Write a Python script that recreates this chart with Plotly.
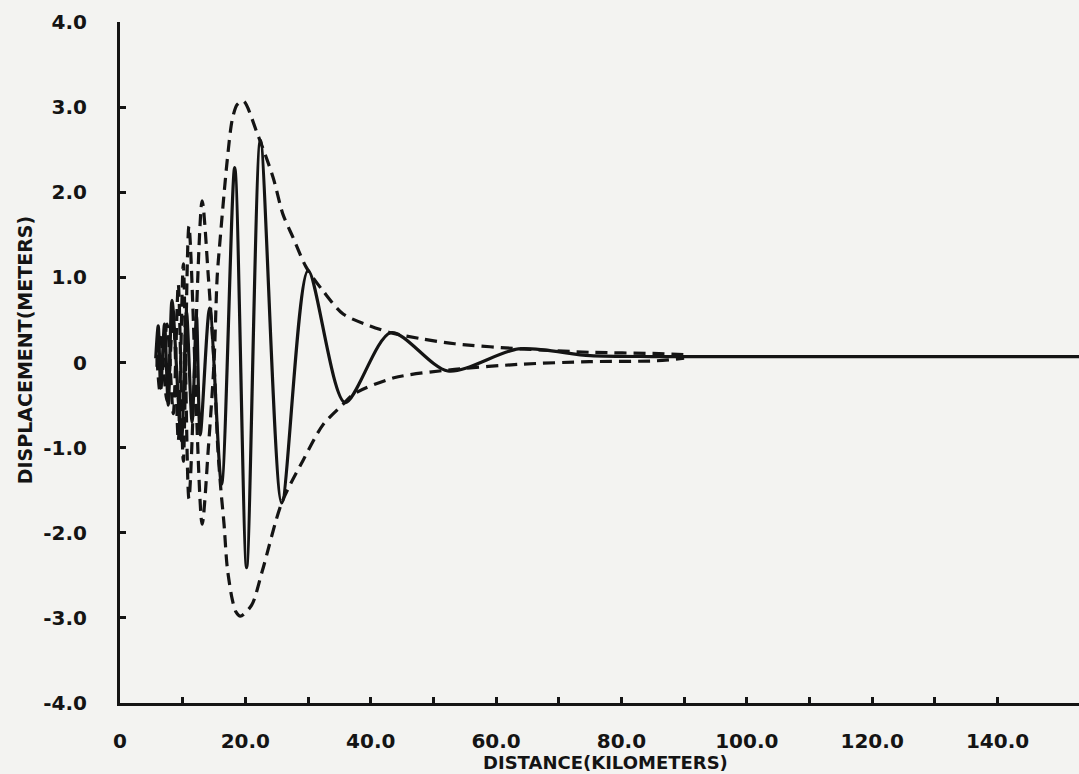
import plotly.graph_objects as go

# ---- data ----
# solid displacement trace (km, m)
sol_x = [5.7, 6.1, 6.5, 7.1, 7.7, 8.3, 9.8, 10.6, 11.5, 12.2, 12.8, 14.3, 16.2, 18.3,
         20.2, 22.4, 25.8, 30.0, 35.9, 43.2, 52.3, 63.6, 75.0, 85.0, 95.0, 110.0, 130.0, 153.0]
sol_y = [0.05, 0.43, -0.30, 0.45, -0.50, 0.73, -0.92, 0.60, -0.70, 0.55, -0.85, 0.64, -1.43, 2.29,
         -2.41, 2.61, -1.65, 1.08, -0.47, 0.35, -0.10, 0.16, 0.08, 0.07, 0.07, 0.07, 0.07, 0.07]

# dashed upper envelope
up_x = [5.9, 6.4, 7.5, 8.5, 9.3, 10.1, 11.0, 13.1, 14.1, 15.0, 15.5, 16.0, 16.6, 17.1, 17.9, 18.7,
        19.7, 21.9, 24.4, 26.0, 27.6, 29.7, 32.4, 35.6, 39.9, 43.2, 48.0, 53.4, 64.0, 75.0, 86.0, 91.0]
up_y = [0.05, -0.35, 0.45, -0.60, 0.92, -1.16, 1.60, -1.90, -1.00, 0.00, 1.00, 1.47, 1.98, 2.37, 2.85, 3.03,
        3.07, 2.69, 2.18, 1.74, 1.47, 1.12, 0.84, 0.57, 0.43, 0.35, 0.28, 0.22, 0.16, 0.12, 0.105, 0.09]

# dashed lower envelope
lo_x = [5.9, 6.4, 7.5, 8.5, 9.3, 10.1, 11.0, 13.1, 14.1, 15.0, 15.6, 16.1, 16.6, 17.1, 17.9, 18.5,
        19.2, 21.0, 22.7, 25.8, 29.2, 32.4, 35.6, 37.3, 43.7, 53.4, 64.1, 74.9, 85.6, 90.0]
lo_y = [-0.05, 0.35, -0.45, 0.60, -0.92, 1.16, -1.60, 1.90, 1.00, 0.00, -1.00, -1.50, -1.90, -2.40, -2.78, -2.93,
        -2.98, -2.85, -2.45, -1.65, -1.15, -0.73, -0.49, -0.37, -0.18, -0.08, -0.02, 0.01, 0.02, 0.05]

x_ticks = [0, 10, 20, 30, 40, 50, 60, 70, 80, 90, 100, 110, 120, 130, 140]
x_ticktext = ["0", "", "20.0", "", "40.0", "", "60.0", "", "80.0", "", "100.0", "", "120.0", "", "140.0"]
y_ticks = [-4, -3, -2, -1, 0, 1, 2, 3, 4]
y_ticktext = ["-4.0", "-3.0", "-2.0", "-1.0", "0", "1.0", "2.0", "3.0", "4.0"]

INK = "#141414"
BG = "#f3f3f1"
FONT = "DejaVu Sans"

fig = go.Figure()
for xs, ys in ((up_x, up_y), (lo_x, lo_y)):
    fig.add_trace(go.Scatter(x=xs, y=ys, mode="lines",
                             line=dict(color=INK, width=3.2, dash="12px,7px",
                                       shape="spline", smoothing=0.8),
                             showlegend=False, hoverinfo="skip"))
fig.add_trace(go.Scatter(x=sol_x, y=sol_y, mode="lines",
                         line=dict(color=INK, width=3.2, shape="spline", smoothing=0.8),
                         showlegend=False, hoverinfo="skip"))

fig.update_layout(
    width=1079, height=774,
    margin=dict(l=120, r=0, t=22, b=71),
    paper_bgcolor=BG, plot_bgcolor=BG,
    font=dict(family=FONT, color=INK, size=20, weight="bold"),
    xaxis=dict(range=[0, 153], showgrid=False, zeroline=False,
               showline=True, linewidth=3, linecolor=INK,
               tickmode="array", tickvals=x_ticks, ticktext=x_ticktext,
               ticks="inside", ticklen=6, tickwidth=3, tickcolor=INK,
               ticklabelstandoff=18,
               tickfont=dict(family=FONT, size=20, color=INK, weight="bold")),
    yaxis=dict(range=[-4, 4], showgrid=False, zeroline=False,
               showline=True, linewidth=3, linecolor=INK,
               tickmode="array", tickvals=y_ticks, ticktext=y_ticktext,
               ticks="inside", ticklen=6, tickwidth=3, tickcolor=INK,
               ticklabelstandoff=26,
               tickfont=dict(family=FONT, size=20, color=INK, weight="bold")),
    annotations=[
        dict(text="DISTANCE(KILOMETERS)", xref="paper", yref="paper",
             x=0.506, y=-0.088, xanchor="center", yanchor="middle", showarrow=False,
             font=dict(family=FONT, size=18, color=INK, weight="bold")),
        dict(text="DISPLACEMENT(METERS)", xref="paper", yref="paper",
             x=-0.099, y=0.518, xanchor="center", yanchor="middle", showarrow=False,
             textangle=-90,
             font=dict(family=FONT, size=19, color=INK, weight="bold")),
    ],
)

# remove the browser's default 8px body margin so the figure fills the window exactly
fig.write_html("out.html",
               config={"displayModeBar": False},
               post_script="document.body.style.margin='0';document.body.style.overflow='hidden';")
